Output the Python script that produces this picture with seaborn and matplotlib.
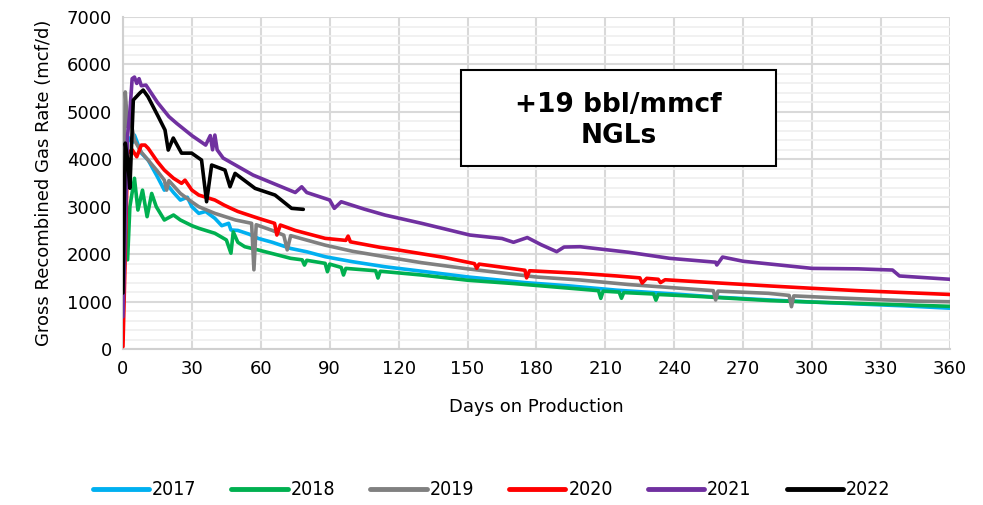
import pandas as pd
import matplotlib
matplotlib.use("Agg")
import matplotlib.pyplot as plt
import seaborn as sns
from matplotlib.ticker import MultipleLocator
from matplotlib.lines import Line2D
from matplotlib.patches import Rectangle

# -----------------------------
# Data (day, mcf/d)
# -----------------------------
days_2017 = [0, 1, 2, 4, 5, 8, 11, 15, 18, 20, 22, 25, 28, 30, 33, 36, 40, 43, 46, 47, 50,
             55, 59, 65, 73, 80, 88, 100, 114, 130, 150, 175, 195, 215, 240, 260, 282, 300,
             320, 340, 360]
rate_2017 = [1600, 4200, 4480, 4350, 4510, 4130, 3980, 3630, 3350, 3420, 3300, 3140, 3200,
             3000, 2860, 2900, 2755, 2600, 2650, 2510, 2500, 2420, 2330, 2250, 2120, 2050,
             1946, 1840, 1735, 1640, 1520, 1400, 1328, 1240, 1160, 1090, 1033, 990, 950,
             910, 860]

days_2018 = [2, 3, 5, 6.5, 8.5, 10.5, 12.5, 14.5, 18, 22, 25, 30, 33, 40, 45, 47, 48, 50,
             53, 59, 66, 73, 78, 79, 80, 88, 89, 90, 95, 96, 97, 110, 111, 112, 130, 150,
             170, 195, 207, 208, 209, 216, 217, 218, 231, 232, 233, 250, 282, 300, 320, 340,
             360]
rate_2018 = [1880, 3000, 3600, 2930, 3350, 2790, 3280, 3000, 2720, 2825, 2720, 2600, 2545,
             2440, 2300, 2020, 2470, 2250, 2157, 2087, 2000, 1912, 1880, 1770, 1870, 1806,
             1630, 1790, 1720, 1560, 1700, 1650, 1497, 1640, 1560, 1450, 1380, 1279, 1230,
             1068, 1220, 1200, 1070, 1190, 1160, 1030, 1150, 1110, 1020, 990, 960, 930, 900]

days_2019 = [0, 1, 2, 3, 5, 8, 11, 15, 18, 19, 20, 25, 30, 33, 40, 49, 56, 57, 58, 65, 70,
             71.5, 73, 88, 100, 114, 130, 150, 180, 199, 220, 240, 257, 258, 259, 281, 290,
             291, 292, 310, 330, 345, 360]
rate_2019 = [1500, 5420, 4700, 4900, 4400, 4150, 3980, 3750, 3560, 3350, 3550, 3280, 3100,
             3000, 2860, 2720, 2650, 1670, 2620, 2500, 2400, 2090, 2390, 2190, 2060, 1946,
             1820, 1690, 1518, 1455, 1360, 1290, 1230, 1033, 1220, 1174, 1130, 892, 1120,
             1080, 1040, 1010, 997]

days_2020 = [0, 1, 2, 4, 6, 8, 9.6, 11, 15, 18, 22, 25.5, 27, 30, 33, 40, 44, 47, 50, 59,
             66, 67, 68.5, 75, 88, 97, 98, 99, 112, 120, 140, 153, 154, 155, 175, 175.7, 177,
             199, 215, 225, 226, 228, 233, 234, 236, 260, 282, 300, 320, 340, 360]
rate_2020 = [50, 2000, 4130, 4200, 4054, 4300, 4300, 4230, 3950, 3773, 3600, 3493, 3560,
             3350, 3246, 3141, 3035, 2966, 2900, 2755, 2650, 2403, 2614, 2500, 2333, 2290,
             2380, 2260, 2143, 2087, 1930, 1800, 1701, 1790, 1660, 1500, 1650, 1595, 1540,
             1500, 1390, 1490, 1470, 1400, 1460, 1390, 1328, 1280, 1230, 1190, 1150]

days_2021 = [0, 1, 2, 3, 4, 5, 6, 7, 8, 10, 15, 20, 23.4, 30, 36, 38, 39, 40, 41, 43.6, 50,
             56.6, 65, 75, 77.8, 80, 90, 92, 95, 105, 114, 130, 151, 165, 170, 176, 182,
             188.8, 192, 199, 220, 238, 258, 258.5, 261, 270, 282, 300, 320, 335, 338, 360]
rate_2021 = [680, 2500, 4500, 5000, 5700, 5734, 5600, 5700, 5550, 5565, 5200, 4900, 4757,
             4500, 4300, 4500, 4200, 4511, 4200, 4026, 3850, 3668, 3500, 3300, 3420, 3300,
             3141, 2966, 3105, 2950, 2825, 2650, 2403, 2330, 2250, 2350, 2200, 2052, 2150,
             2157, 2040, 1912, 1830, 1771, 1939, 1850, 1790, 1700, 1690, 1665, 1540, 1470]

days_2022 = [0, 1, 2, 3, 4.5, 7.4, 8.8, 10.9, 15.4, 18.3, 19.7, 21.9, 25.5, 29.9, 34.2,
             36.4, 38.6, 44.4, 46.6, 48.8, 57.5, 66.2, 73.4, 78.5]
rate_2022 = [1180, 4340, 4000, 3390, 5250, 5400, 5460, 5318, 4897, 4617, 4195, 4448, 4130,
             4130, 3984, 3105, 3879, 3773, 3421, 3703, 3387, 3246, 2966, 2945]

years = ["2017", "2018", "2019", "2020", "2021", "2022"]
colors = ["#00B0F0", "#00B050", "#808080", "#FF0000", "#7030A0", "#000000"]
all_days = [days_2017, days_2018, days_2019, days_2020, days_2021, days_2022]
all_rates = [rate_2017, rate_2018, rate_2019, rate_2020, rate_2021, rate_2022]

frames = []
for yr, d, r in zip(years, all_days, all_rates):
    frames.append(pd.DataFrame({"day": d, "rate": r, "year": yr}))
df = pd.concat(frames, ignore_index=True)

# -----------------------------
# Plot
# -----------------------------
sns.set_style("white")
plt.rcParams["font.family"] = ["DejaVu Sans"]
plt.rcParams["text.color"] = "black"
plt.rcParams["axes.labelcolor"] = "black"
plt.rcParams["xtick.color"] = "black"
plt.rcParams["ytick.color"] = "black"

fig = plt.figure(figsize=(9.83, 5.05), dpi=100)
ax = fig.add_axes([0.1251, 0.3089, 0.8413, 0.6574])

sns.lineplot(data=df, x="day", y="rate", hue="year", palette=dict(zip(years, colors)),
             estimator=None, sort=False, linewidth=2.6, legend=False, ax=ax, zorder=3)

ax.set_xlim(0, 360)
ax.set_ylim(0, 7000)
ax.xaxis.set_major_locator(MultipleLocator(30))
ax.yaxis.set_major_locator(MultipleLocator(1000))
ax.yaxis.set_minor_locator(MultipleLocator(200))
ax.grid(which="major", color="#d9d9d9", linewidth=1.5, zorder=0)
ax.grid(which="minor", axis="y", color="#efefef", linewidth=1.2, zorder=0)
ax.set_axisbelow(True)
ax.tick_params(which="both", length=0, labelsize=13, pad=8)
for s in ["top", "right"]:
    ax.spines[s].set_visible(False)
for s in ["left", "bottom"]:
    ax.spines[s].set_color("#d0d0d0")
    ax.spines[s].set_linewidth(1.5)

ax.set_xlabel("Days on Production", fontsize=13, labelpad=14)
ax.set_ylabel("Gross Recombined Gas Rate (mcf/d)", fontsize=13, labelpad=10)

# annotation box
ax.add_patch(Rectangle((0.4087, 0.5512), 0.3809, 0.2892, transform=ax.transAxes,
                       facecolor="white", edgecolor="black", linewidth=1.5, zorder=5))
ax.text(0.599, 0.688, "+19 bbl/mmcf\nNGLs", transform=ax.transAxes, ha="center",
        va="center", fontsize=19, fontweight="bold", color="black", linespacing=1.25,
        zorder=6)

# legend
handles = [Line2D([0], [0], color=c, linewidth=3.5, solid_capstyle="round") for c in colors]
fig.legend(handles, years, loc="center", bbox_to_anchor=(0.5, 0.03), ncol=6,
           frameon=False, handlelength=2.9, handletextpad=0.15, columnspacing=1.8,
           prop={"family": "DejaVu Sans", "stretch": "condensed", "size": 14})

plt.savefig("out.png", dpi=100)
plt.close()
